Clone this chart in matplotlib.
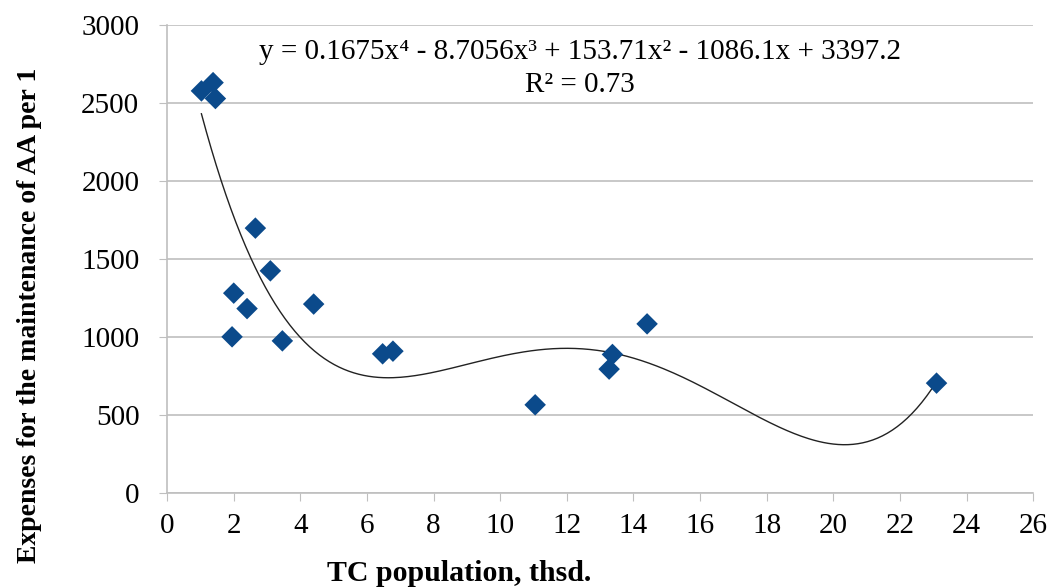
import matplotlib.pyplot as plt
import numpy as np

# TC population (thsd.) and expenses per 1 AA
population = [1.03, 1.38, 1.45, 1.95, 2.0, 2.4, 2.65, 3.1, 3.46, 4.4,
              6.47, 6.78, 11.05, 13.27, 13.37, 14.41, 23.1]
expenses = [2579, 2632, 2530, 1002, 1282, 1183, 1699, 1425, 976, 1212,
            893, 910, 566, 795, 889, 1085, 705]

# trendline coefficients as printed on the chart (4th order)
trend_coefs = [0.1675, -8.7056, 153.71, -1086.1, 3397.2]
r_squared = 0.73

plt.rcParams['font.family'] = ['Liberation Serif', 'DejaVu Serif']

fig = plt.figure(figsize=(10.51, 5.87), dpi=100)
ax = fig.add_axes([0.159, 0.160, 0.824, 0.797])

xs = np.linspace(min(population), max(population), 300)
ax.plot(xs, np.polyval(trend_coefs, xs), color='#222222', lw=1.0, zorder=2)
ax.scatter(population, expenses, marker='D', s=120, color='#0B4A8B',
           edgecolors='none', zorder=3)

ax.set_xlim(0, 26)
ax.set_ylim(0, 3000)
ax.set_xticks(range(0, 27, 2))
ax.set_yticks(range(0, 3001, 500))
ax.grid(axis='y', color='#BFBFBF', lw=1.2)
ax.set_axisbelow(True)
for s in ['top', 'right']:
    ax.spines[s].set_visible(False)
for s in ['left', 'bottom']:
    ax.spines[s].set_color('#BFBFBF')
    ax.spines[s].set_linewidth(1.2)
ax.tick_params(axis='both', direction='out', length=6, color='#BFBFBF',
               labelsize=21)
ax.tick_params(axis='y', pad=14)
ax.tick_params(axis='x', pad=8)

ax.text(0.477, 0.942, 'y = %sx\u2074 - %sx\u00b3 + %sx\u00b2 - %sx + %s' % (
    trend_coefs[0], -trend_coefs[1], trend_coefs[2], -trend_coefs[3], trend_coefs[4]),
    transform=ax.transAxes, ha='center', va='center', fontsize=21)
ax.text(0.477, 0.872, 'R\u00b2 = %.2f' % r_squared, transform=ax.transAxes,
        ha='center', va='center', fontsize=21)

fig.text(0.437, 0.0, 'TC population, thsd.', ha='center', va='bottom',
         fontsize=21.5, fontweight='bold')
fig.text(0.028, 0.463, 'Expenses for the maintenance of AA per 1', rotation=90,
         ha='center', va='center', fontsize=20, fontweight='bold')

fig.savefig('out.png', dpi=100)
